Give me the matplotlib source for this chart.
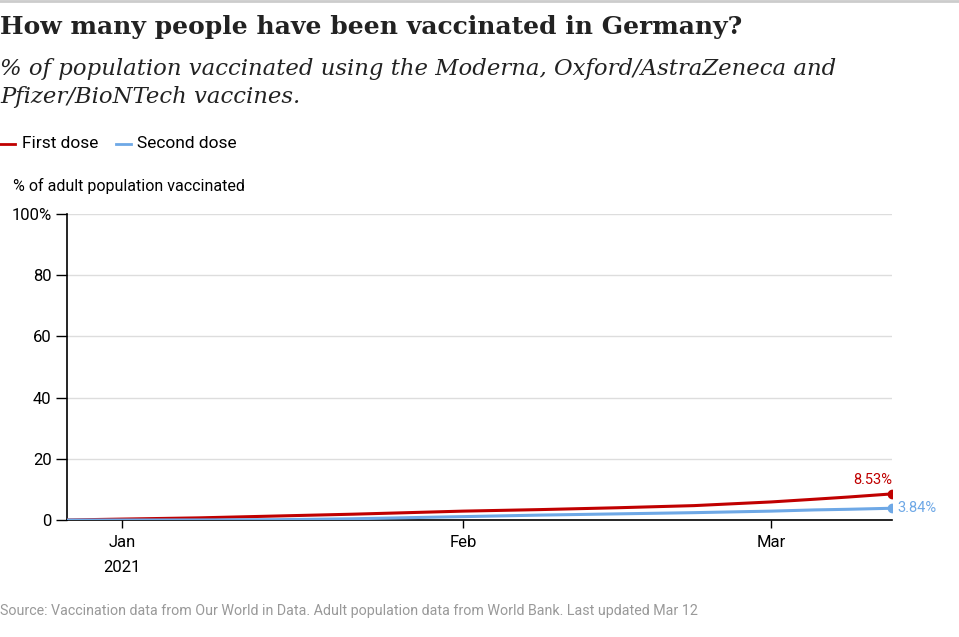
import numpy as np
import matplotlib
matplotlib.use("Agg")
from matplotlib import pyplot as plt

# 数据
dates = ["2020-12-27", "2021-01-01", "2021-01-08", "2021-01-15", "2021-01-22",
         "2021-01-29", "2021-02-01", "2021-02-08", "2021-02-15", "2021-02-22",
         "2021-03-01", "2021-03-05", "2021-03-08", "2021-03-12"]
first_dose = [0.0, 0.3, 0.7, 1.3, 1.9, 2.6, 2.9, 3.4, 4.0, 4.7, 5.9, 6.8, 7.5, 8.53]
second_dose = [0.0, 0.0, 0.02, 0.1, 0.4, 0.9, 1.1, 1.6, 2.0, 2.4, 2.9, 3.3, 3.5, 3.84]
y_ticks = [0, 20, 40, 60, 80, 100]
y_labels = ["0", "20", "40", "60", "80", "100%"]

x = np.array(dates, dtype="datetime64[D]")

red = "#c00000"
blue = "#6ea8e6"
sans = ["Roboto", "DejaVu Sans"]

fig = plt.figure(figsize=(9.59, 6.37), dpi=100)
ax = fig.add_axes([67 / 959, 1 - 520 / 637, (892 - 67) / 959, (520 - 214) / 637])

ax.plot(x, first_dose, color=red, lw=2.2, solid_capstyle="round", zorder=3)
ax.plot(x, second_dose, color=blue, lw=2.2, solid_capstyle="round", zorder=3)
ax.plot(x[-1], first_dose[-1], "o", color=red, ms=6, zorder=4)
ax.plot(x[-1], second_dose[-1], "o", color=blue, ms=6, zorder=4)
ax.annotate(f"{first_dose[-1]:.2f}%", (x[-1], first_dose[-1]), xytext=(0, 5),
            textcoords="offset points", ha="right", va="bottom", color=red,
            fontsize=10.5, family=sans)
ax.annotate(f"{second_dose[-1]:.2f}%", (x[-1], second_dose[-1]), xytext=(4, 0),
            textcoords="offset points", ha="left", va="center", color=blue,
            fontsize=10.5, family=sans, annotation_clip=False)

ax.set_xlim(np.datetime64("2020-12-27"), np.datetime64("2021-03-12"))
ax.set_ylim(0, 100)
ax.set_yticks(y_ticks)
ax.set_yticklabels(y_labels, family=sans, fontsize=12)
ax.set_xticks(np.array(["2021-01-01", "2021-02-01", "2021-03-01"], dtype="datetime64[D]"))
ax.set_xticklabels(["Jan\n2021", "Feb", "Mar"], family=sans, fontsize=12, linespacing=1.8)
ax.tick_params(axis="y", length=8, width=1, color="black", pad=3)
ax.tick_params(axis="x", length=6, width=1, color="black", pad=5)
ax.grid(axis="y", color="#dddddd", lw=1)
ax.set_axisbelow(True)
for s in ["top", "right"]:
    ax.spines[s].set_visible(False)
for s in ["left", "bottom"]:
    ax.spines[s].set_color("black")
    ax.spines[s].set_linewidth(1.2)

# 标题等文字
fig.add_artist(plt.Line2D([0, 1], [1 - 1 / 637, 1 - 1 / 637], color="#cccccc", lw=2))
fig.text(0, 1 - 27 / 637, "How many people have been vaccinated in Germany?",
         family="DejaVu Serif", weight="bold", fontsize=18, va="center", color="#222222")
fig.text(0, 1 - 83 / 637,
         "% of population vaccinated using the Moderna, Oxford/AstraZeneca and\nPfizer/BioNTech vaccines.",
         family="DejaVu Serif", style="italic", fontsize=16.4, va="center",
         color="#222222", linespacing=1.35)

fig.add_artist(plt.Line2D([0, 15 / 959], [1 - 144 / 637] * 2, color=red, lw=2))
fig.text(22 / 959, 1 - 143 / 637, "First dose", family=sans, fontsize=12.5, va="center")
fig.add_artist(plt.Line2D([116 / 959, 131 / 959], [1 - 144 / 637] * 2, color=blue, lw=2))
fig.text(137 / 959, 1 - 143 / 637, "Second dose", family=sans, fontsize=12.5, va="center")

fig.text(13 / 959, 1 - 186 / 637, "% of adult population vaccinated", family=sans,
         fontsize=11.5, va="center")
fig.text(0, 1 - 611 / 637,
         "Source: Vaccination data from Our World in Data. Adult population data from World Bank. Last updated Mar 12",
         family=sans, fontsize=10.3, va="center", color="#999999")

fig.savefig("out.png", dpi=100)
